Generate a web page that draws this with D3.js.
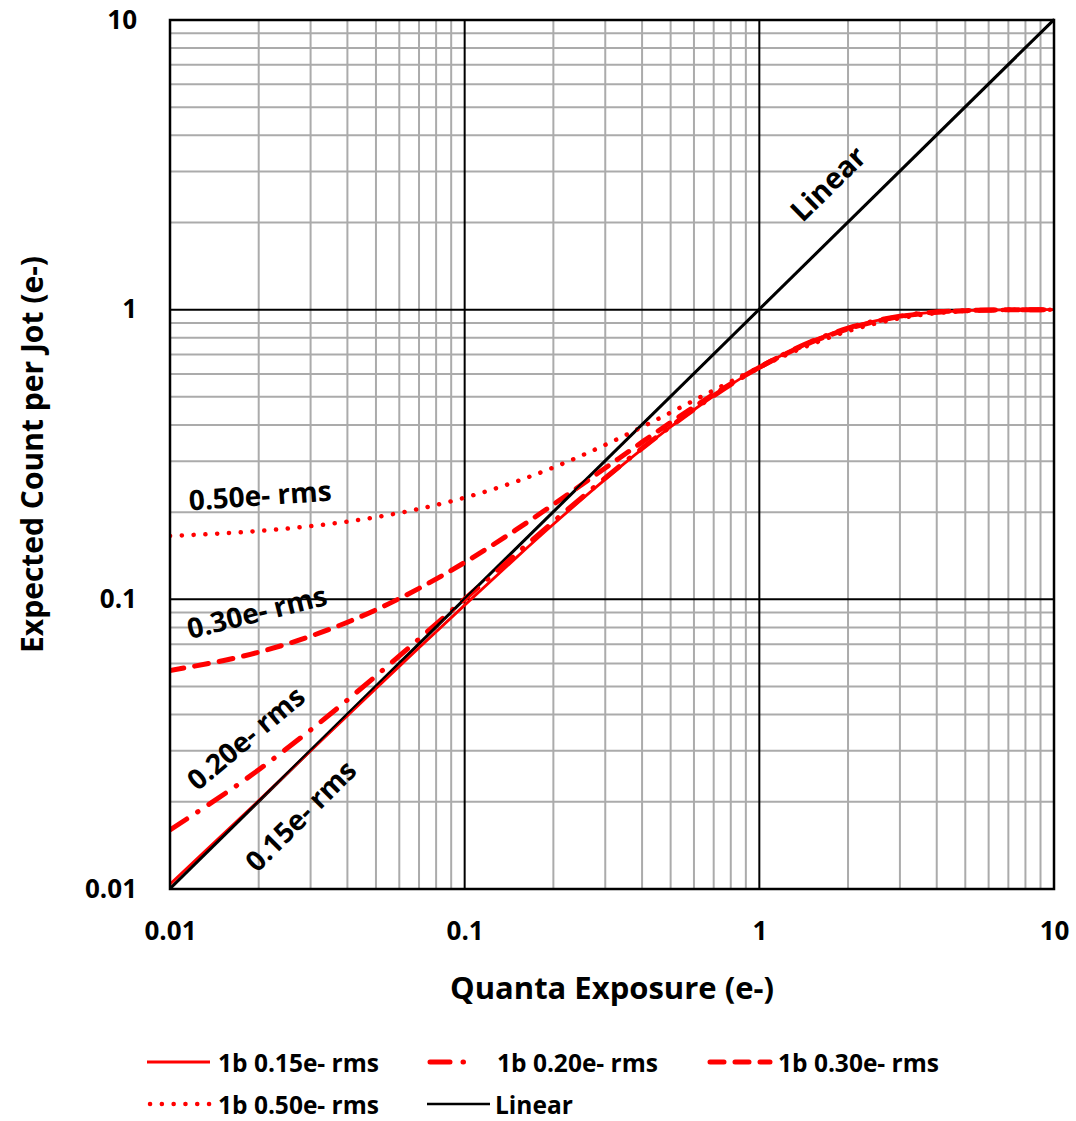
<!DOCTYPE html>
<html>
<head>
<meta charset="utf-8">
<script src="https://cdn.jsdelivr.net/npm/d3@7"></script>
<style>
  body { margin: 0; background: #fff; }
  svg { display: block; font-family: "Open Sans", Lato, sans-serif; font-weight: bold; }
</style>
</head>
<body>
<svg id="chart" width="1076" height="1121"></svg>
<script>
// Exposure points (e-) and expected count per jot
const exposure = [0.01, 0.02, 0.03, 0.05, 0.07, 0.1, 0.15, 0.2, 0.3, 0.4, 0.5, 0.7, 1, 1.5, 2, 3, 5, 7, 10];
const count015 = [0.0104, 0.0202, 0.0300, 0.0492, 0.0680, 0.0955, 0.1396, 0.1816, 0.2594, 0.3299, 0.3936, 0.5035, 0.632, 0.777, 0.865, 0.950, 0.993, 0.999, 1.0];
const count020 = [0.0160, 0.0258, 0.0354, 0.0544, 0.0730, 0.1002, 0.1438, 0.1853, 0.2624, 0.3322, 0.3954, 0.5043, 0.632, 0.776, 0.864, 0.950, 0.993, 0.999, 1.0];
const count030 = [0.0568, 0.0657, 0.0746, 0.0920, 0.1091, 0.1341, 0.1743, 0.2126, 0.2840, 0.3489, 0.4080, 0.5105, 0.632, 0.772, 0.858, 0.946, 0.992, 0.999, 1.0];
const count050 = [0.1655, 0.1722, 0.1789, 0.1922, 0.2052, 0.2244, 0.2554, 0.2852, 0.3414, 0.3934, 0.4415, 0.5269, 0.632, 0.759, 0.843, 0.934, 0.989, 0.998, 1.0];
const linearX  = [0.01, 10];
const linearY  = [0.01, 10];

const xTicks = [0.01, 0.1, 1, 10];
const yTicks = [0.01, 0.1, 1, 10];
const tickLabels = ['0.01', '0.1', '1', '10'];

const seriesNames = ['1b 0.15e- rms', '1b 0.20e- rms', '1b 0.30e- rms', '1b 0.50e- rms', 'Linear'];
const curveLabels = ['0.50e- rms', '0.30e- rms', '0.20e- rms', '0.15e- rms', 'Linear'];
const labelX = [0.0202, 0.0197, 0.0180, 0.0276, 1.70];
const labelY = [0.230, 0.091, 0.0334, 0.0180, 2.74];
const labelRot = [-4, -14, -40, -45, -44.5];

const RED = '#ff0000';
const styles = [
  { color: RED, width: 2.8, dash: null, cap: 'butt' },
  { color: RED, width: 5, dash: '20,13,0.5,13', cap: 'round' },
  { color: RED, width: 5, dash: '14,11', cap: 'round' },
  { color: RED, width: 4.5, dash: '0.1,11.7', cap: 'round' },
  { color: '#000', width: 2.5, dash: null, cap: 'butt' },
];

const svg = d3.select('#chart');
const M = { left: 170, top: 20, right: 1054, bottom: 889 };

const x = d3.scaleLog().domain([0.01, 10]).range([M.left, M.right]);
const y = d3.scaleLog().domain([0.01, 10]).range([M.bottom, M.top]);

// minor grid: 2..9 in every decade
const minor = [];
[0.01, 0.1, 1].forEach(d => { for (let k = 2; k <= 9; k++) minor.push(+(d * k).toPrecision(3)); });

const grid = svg.append('g');
grid.selectAll('.vmin').data(minor).join('line')
  .attr('x1', d => x(d)).attr('x2', d => x(d))
  .attr('y1', M.top).attr('y2', M.bottom)
  .attr('stroke', '#ababab').attr('stroke-width', 2);
grid.selectAll('.hmin').data(minor).join('line')
  .attr('y1', d => y(d)).attr('y2', d => y(d))
  .attr('x1', M.left).attr('x2', M.right)
  .attr('stroke', '#ababab').attr('stroke-width', 2);
grid.selectAll('.vmaj').data(xTicks).join('line')
  .attr('x1', d => x(d)).attr('x2', d => x(d))
  .attr('y1', M.top).attr('y2', M.bottom)
  .attr('stroke', '#000').attr('stroke-width', 2);
grid.selectAll('.hmaj').data(yTicks).join('line')
  .attr('y1', d => y(d)).attr('y2', d => y(d))
  .attr('x1', M.left).attr('x2', M.right)
  .attr('stroke', '#000').attr('stroke-width', 2);

// axes (labels only)
const xAxis = svg.append('g').attr('transform', `translate(0,${M.bottom})`)
  .call(d3.axisBottom(x).tickValues(xTicks).tickFormat((d, i) => tickLabels[i]).tickSize(0).tickPadding(33));
const yAxis = svg.append('g').attr('transform', `translate(${M.left},0)`)
  .call(d3.axisLeft(y).tickValues(yTicks).tickFormat((d, i) => tickLabels[i]).tickSize(0).tickPadding(33));
[xAxis, yAxis].forEach(a => {
  a.select('.domain').remove();
  a.selectAll('text').attr('font-size', 26).attr('font-family', '"Open Sans", sans-serif')
    .attr('font-weight', 'bold').attr('fill', '#000');
});

// series
const allSeries = [
  exposure.map((d, i) => [d, count015[i]]),
  exposure.map((d, i) => [d, count020[i]]),
  exposure.map((d, i) => [d, count030[i]]),
  exposure.map((d, i) => [d, count050[i]]),
  linearX.map((d, i) => [d, linearY[i]]),
];
const line = d3.line().x(d => x(d[0])).y(d => y(d[1])).curve(d3.curveMonotoneX);

svg.append('defs').append('clipPath').attr('id', 'plotclip')
  .append('rect').attr('x', M.left).attr('y', M.top - 3)
  .attr('width', M.right - M.left + 3).attr('height', M.bottom - M.top + 3);

const plot = svg.append('g').attr('clip-path', 'url(#plotclip)');
[4, 3, 2, 1, 0].forEach(i => {
  const s = styles[i];
  plot.append('path').datum(allSeries[i])
    .attr('d', line)
    .attr('fill', 'none')
    .attr('stroke', s.color)
    .attr('stroke-width', s.width)
    .attr('stroke-dasharray', s.dash)
    .attr('stroke-linecap', s.cap)
    .attr('stroke-linejoin', 'round');
});
// black linear shows just above the 0.15 curve in the reference
plot.append('path').datum(allSeries[4]).attr('d', line)
  .attr('fill', 'none').attr('stroke', '#000').attr('stroke-width', 2.2)
  .attr('transform', 'translate(0,-1)');

// frame
svg.append('rect').attr('x', M.left).attr('y', M.top)
  .attr('width', M.right - M.left).attr('height', M.bottom - M.top)
  .attr('fill', 'none').attr('stroke', '#000').attr('stroke-width', 2.5);

// curve labels
curveLabels.forEach((t, i) => {
  svg.append('text')
    .attr('transform', `translate(${x(labelX[i])},${y(labelY[i])}) rotate(${labelRot[i]})`)
    .attr('text-anchor', 'middle').attr('dominant-baseline', 'central')
    .attr('font-size', i === 4 ? 29 : 28).text(t);
});

// axis titles
svg.append('text').attr('x', 612).attr('y', 999)
  .attr('text-anchor', 'middle').attr('font-size', 31).text('Quanta Exposure (e-)');
svg.append('text')
  .attr('transform', `translate(43,${(M.top + M.bottom) / 2}) rotate(-90)`)
  .attr('text-anchor', 'middle').attr('font-size', 30).text('Expected Count per Jot (e-)');

// legend
const legPos = [[147, 1062], [427, 1062], [707, 1062], [147, 1104], [427, 1104]];
const legLen = [63, 48, 63, 63, 63];
const legGap = [8, 22, 8, 8, 5];
const leg = svg.append('g');
seriesNames.forEach((name, i) => {
  const s = styles[i];
  const [lx, ly] = legPos[i];
  leg.append('line').attr('x1', lx + (s.cap === 'round' ? 3 : 0)).attr('x2', lx + legLen[i])
    .attr('y1', ly).attr('y2', ly)
    .attr('stroke', s.color).attr('stroke-width', s.width)
    .attr('stroke-dasharray', s.dash).attr('stroke-linecap', s.cap);
  leg.append('text').attr('x', lx + legLen[i] + legGap[i]).attr('y', ly)
    .attr('dominant-baseline', 'central').attr('font-size', 24.5).text(name);
});
</script>
</body>
</html>
